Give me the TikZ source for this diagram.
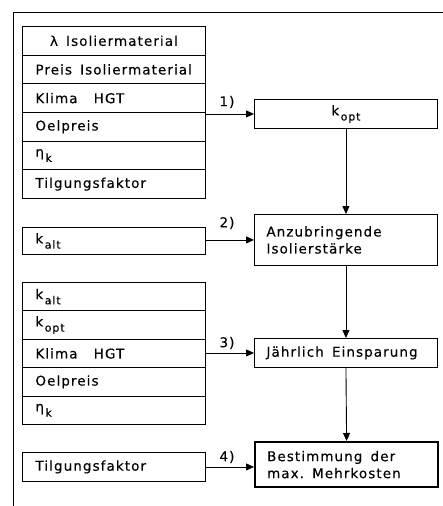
\documentclass[tikz,border=0pt]{standalone}
\usepackage{fontspec}
\setmainfont{DejaVu Sans}[LetterSpace=8, FakeBold=0.25]
\usetikzlibrary{arrows.meta}
\newcommand{\lowsub}[1]{\kern1.5pt\raisebox{-0.7ex}{\fontsize{11}{11}\selectfont #1}}
\newcommand{\ws}{\hspace{0.6em}}
\begin{document}
\begin{tikzpicture}[x=1pt,y=-1pt,
  box/.style={draw, line width=0.9pt, rectangle, minimum width=183pt, minimum height=#1,
    inner xsep=13pt, inner ysep=0pt, text width=157pt, align=left, anchor=north west,
    font=\fontsize{13.5}{17}\selectfont},
  box/.default=28.67pt,
  cbox/.style={box=#1, align=center},
  cbox/.default=28.67pt,
  arr/.style={line width=0.9pt, -{Triangle[length=8pt,width=7pt]}},
  lab/.style={font=\fontsize{13.5}{17}\selectfont, inner sep=0pt}]
\useasboundingbox (0,0) rectangle (443,506);
% outer frame
\draw[line width=1pt] (13,506) -- (13,12) -- (443,12);

% stack 1
\node[cbox] (a1) at (22,26) {λ\ws Isoliermaterial};
\node[box] (a2) at (22,54.67) {Preis\ws Isoliermaterial};
\node[box] (a3) at (22,83.33) {Klima\ws\ws HGT};
\node[box] (a4) at (22,112) {Oelpreis};
\node[box] (a5) at (22,140.67) {η\lowsub{k}};
\node[box] (a6) at (22,169.33) {Tilgungsfaktor};

% k_alt
\node[box=27pt] (b1) at (22,227) {k\lowsub{alt}};

% stack 2
\node[box=28.4pt] (c1) at (22,282) {k\lowsub{alt}};
\node[box=28.4pt] (c2) at (22,310.4) {k\lowsub{opt}};
\node[box=28.4pt] (c3) at (22,338.8) {Klima\ws\ws HGT};
\node[box=28.4pt] (c4) at (22,367.2) {Oelpreis};
\node[box=28.4pt] (c5) at (22,395.6) {η\lowsub{k}};

% Tilgungsfaktor
\node[box=29pt] (d1) at (22,452) {Tilgungsfaktor};

% right column
\node[cbox=29pt] (kopt) at (254,99) {k\lowsub{opt}};
\node[box=51pt, inner xsep=12pt, text width=159pt] (anz) at (254,214) {Anzubringende\\Isolierstärke};
\node[box=29pt, inner xsep=12pt, text width=159pt] (jae) at (254,338) {Jährlich\ws Einsparung};
\node[box=45pt, line width=2.2pt, inner xsep=12pt, text width=159pt] (best) at (254,441) {Bestimmung\ws der\\max.\ws Mehrkosten};

% arrows
\draw[arr] (kopt.west -| a3.east) -- (kopt.west);
\draw[arr] (anz.west -| b1.east) -- (anz.west);
\draw[arr] (jae.west -| c3.east) -- (jae.west);
\draw[arr] (d1.east) -- (d1.east -| best.west);
\draw[arr] (kopt.south) -- (anz.north);
\draw[arr] (anz.south) -- (jae.north);
\draw[arr] (jae.south) -- (best.north);

% labels
\node[lab] (l1) at (227,102) {1)};
\node[lab] (l2) at (227,223) {2)};
\node[lab] (l3) at (227,343) {3)};
\node[lab] (l4) at (227,457) {4)};
\end{tikzpicture}
\end{document}
